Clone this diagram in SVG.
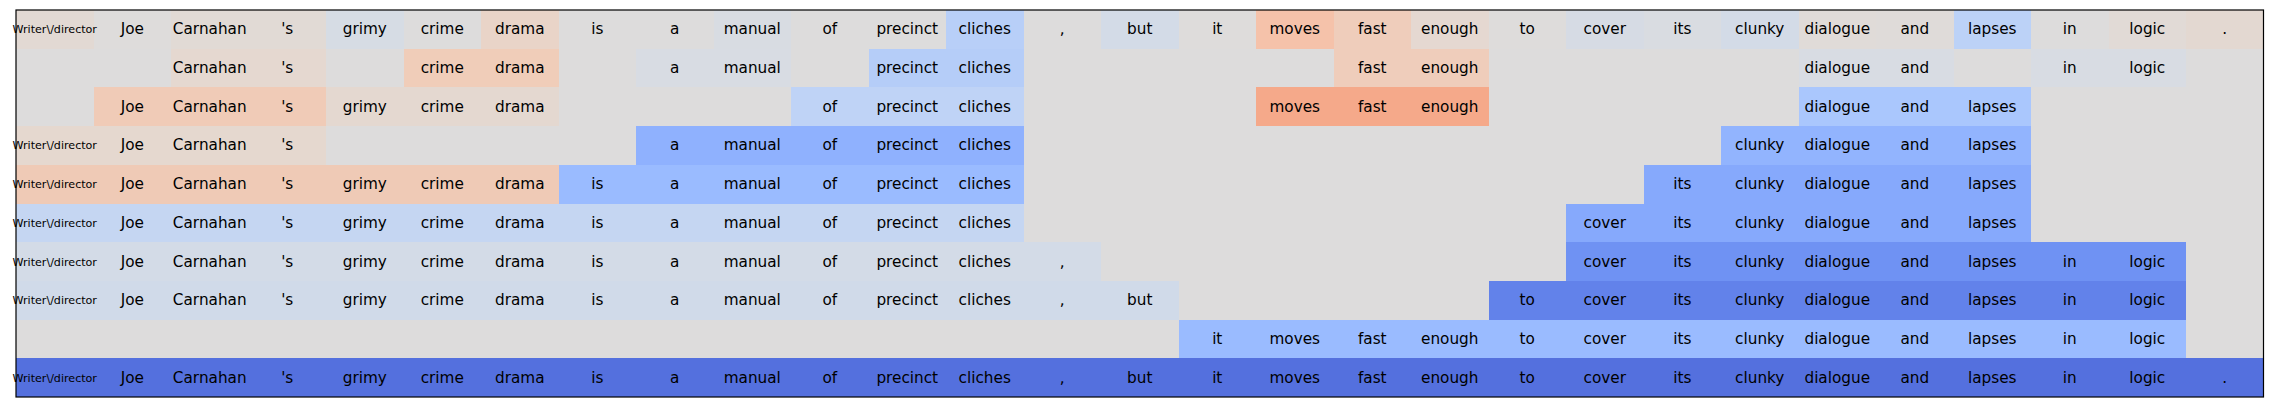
<svg xmlns="http://www.w3.org/2000/svg" width="2272" height="412" viewBox="0 0 2272 412">
<style>
rect.c{shape-rendering:crispEdges}
text{font-family:"DejaVu Sans","Liberation Sans",sans-serif;font-size:15.28px;fill:#000;text-anchor:middle}
text.s{font-size:11.1px}
</style>
<rect x="0" y="0" width="2272" height="412" fill="#ffffff"/>
<rect class="c" x="16" y="10" width="2247.5" height="387" fill="#dddcdc"/>
<g id="row0">
<rect class="c" x="16" y="10" width="77.5" height="38.7" fill="#e2d9d3"/>
<rect class="c" x="93.5" y="10" width="77.5" height="38.7" fill="#dedcdb"/>
<rect class="c" x="171" y="10" width="155" height="38.7" fill="#e1dad5"/>
<rect class="c" x="326" y="10" width="77.5" height="38.7" fill="#d6dce4"/>
<rect class="c" x="481" y="10" width="77.5" height="38.7" fill="#e9d4c8"/>
<rect class="c" x="713.5" y="10" width="77.5" height="38.7" fill="#d8dce2"/>
<rect class="c" x="946" y="10" width="77.5" height="38.7" fill="#b8cff8"/>
<rect class="c" x="1101" y="10" width="77.5" height="38.7" fill="#d3dbe7"/>
<rect class="c" x="1178.5" y="10" width="77.5" height="38.7" fill="#dedcdb"/>
<rect class="c" x="1256" y="10" width="77.5" height="38.7" fill="#f5c2aa"/>
<rect class="c" x="1333.5" y="10" width="77.5" height="38.7" fill="#efcdbb"/>
<rect class="c" x="1411" y="10" width="77.5" height="38.7" fill="#e5d8d1"/>
<rect class="c" x="1488.5" y="10" width="77.5" height="38.7" fill="#dedcdb"/>
<rect class="c" x="1566" y="10" width="77.5" height="38.7" fill="#d6dbe4"/>
<rect class="c" x="1643.5" y="10" width="77.5" height="38.7" fill="#d9dce1"/>
<rect class="c" x="1721" y="10" width="77.5" height="38.7" fill="#d3dbe7"/>
<rect class="c" x="1798.5" y="10" width="77.5" height="38.7" fill="#e0dbd8"/>
<rect class="c" x="1876" y="10" width="77.5" height="38.7" fill="#dfdbd9"/>
<rect class="c" x="1953.5" y="10" width="77.5" height="38.7" fill="#bcd2f7"/>
<rect class="c" x="2108.5" y="10" width="77.5" height="38.7" fill="#e1dad6"/>
<rect class="c" x="2186" y="10" width="77.5" height="38.7" fill="#e3d8d1"/>
<text class="s" x="54.75" y="33.3">Writer\/director</text>
<text x="132.25" y="34.35">Joe</text>
<text x="209.75" y="34.35">Carnahan</text>
<text x="287.25" y="34.35">'s</text>
<text x="364.75" y="34.35">grimy</text>
<text x="442.25" y="34.35">crime</text>
<text x="519.75" y="34.35">drama</text>
<text x="597.25" y="34.35">is</text>
<text x="674.75" y="34.35">a</text>
<text x="752.25" y="34.35">manual</text>
<text x="829.75" y="34.35">of</text>
<text x="907.25" y="34.35">precinct</text>
<text x="984.75" y="34.35">cliches</text>
<text x="1062.25" y="34.35">,</text>
<text x="1139.75" y="34.35">but</text>
<text x="1217.25" y="34.35">it</text>
<text x="1294.75" y="34.35">moves</text>
<text x="1372.25" y="34.35">fast</text>
<text x="1449.75" y="34.35">enough</text>
<text x="1527.25" y="34.35">to</text>
<text x="1604.75" y="34.35">cover</text>
<text x="1682.25" y="34.35">its</text>
<text x="1759.75" y="34.35">clunky</text>
<text x="1837.25" y="34.35">dialogue</text>
<text x="1914.75" y="34.35">and</text>
<text x="1992.25" y="34.35">lapses</text>
<text x="2069.75" y="34.35">in</text>
<text x="2147.25" y="34.35">logic</text>
<text x="2224.75" y="34.35">.</text>
</g>
<g id="row1">
<rect class="c" x="171" y="48.7" width="155" height="38.7" fill="#e5d8d0"/>
<rect class="c" x="403.5" y="48.7" width="155" height="38.7" fill="#f0cdb9"/>
<rect class="c" x="636" y="48.7" width="155" height="38.7" fill="#d8dce3"/>
<rect class="c" x="868.5" y="48.7" width="155" height="38.7" fill="#b5cdf8"/>
<rect class="c" x="1333.5" y="48.7" width="155" height="38.7" fill="#efcdbb"/>
<rect class="c" x="1798.5" y="48.7" width="155" height="38.7" fill="#d8dce3"/>
<rect class="c" x="2031" y="48.7" width="155" height="38.7" fill="#d8dce3"/>
<text x="209.75" y="73.05">Carnahan</text>
<text x="287.25" y="73.05">'s</text>
<text x="442.25" y="73.05">crime</text>
<text x="519.75" y="73.05">drama</text>
<text x="674.75" y="73.05">a</text>
<text x="752.25" y="73.05">manual</text>
<text x="907.25" y="73.05">precinct</text>
<text x="984.75" y="73.05">cliches</text>
<text x="1372.25" y="73.05">fast</text>
<text x="1449.75" y="73.05">enough</text>
<text x="1837.25" y="73.05">dialogue</text>
<text x="1914.75" y="73.05">and</text>
<text x="2069.75" y="73.05">in</text>
<text x="2147.25" y="73.05">logic</text>
</g>
<g id="row2">
<rect class="c" x="93.5" y="87.4" width="232.5" height="38.7" fill="#f0cbb7"/>
<rect class="c" x="326" y="87.4" width="232.5" height="38.7" fill="#e4d8d0"/>
<rect class="c" x="791" y="87.4" width="232.5" height="38.7" fill="#bfd3f6"/>
<rect class="c" x="1256" y="87.4" width="232.5" height="38.7" fill="#f5a98a"/>
<rect class="c" x="1798.5" y="87.4" width="232.5" height="38.7" fill="#aac7fd"/>
<text x="132.25" y="111.75">Joe</text>
<text x="209.75" y="111.75">Carnahan</text>
<text x="287.25" y="111.75">'s</text>
<text x="364.75" y="111.75">grimy</text>
<text x="442.25" y="111.75">crime</text>
<text x="519.75" y="111.75">drama</text>
<text x="829.75" y="111.75">of</text>
<text x="907.25" y="111.75">precinct</text>
<text x="984.75" y="111.75">cliches</text>
<text x="1294.75" y="111.75">moves</text>
<text x="1372.25" y="111.75">fast</text>
<text x="1449.75" y="111.75">enough</text>
<text x="1837.25" y="111.75">dialogue</text>
<text x="1914.75" y="111.75">and</text>
<text x="1992.25" y="111.75">lapses</text>
</g>
<g id="row3">
<rect class="c" x="16" y="126.1" width="310" height="38.7" fill="#e5d8cf"/>
<rect class="c" x="636" y="126.1" width="387.5" height="38.7" fill="#8fb1fe"/>
<rect class="c" x="1721" y="126.1" width="310" height="38.7" fill="#92b4fe"/>
<text class="s" x="54.75" y="149.4">Writer\/director</text>
<text x="132.25" y="150.45">Joe</text>
<text x="209.75" y="150.45">Carnahan</text>
<text x="287.25" y="150.45">'s</text>
<text x="674.75" y="150.45">a</text>
<text x="752.25" y="150.45">manual</text>
<text x="829.75" y="150.45">of</text>
<text x="907.25" y="150.45">precinct</text>
<text x="984.75" y="150.45">cliches</text>
<text x="1759.75" y="150.45">clunky</text>
<text x="1837.25" y="150.45">dialogue</text>
<text x="1914.75" y="150.45">and</text>
<text x="1992.25" y="150.45">lapses</text>
</g>
<g id="row4">
<rect class="c" x="16" y="164.8" width="542.5" height="38.7" fill="#efcab6"/>
<rect class="c" x="558.5" y="164.8" width="465" height="38.7" fill="#9abbff"/>
<rect class="c" x="1643.5" y="164.8" width="387.5" height="38.7" fill="#86a9fc"/>
<text class="s" x="54.75" y="188.1">Writer\/director</text>
<text x="132.25" y="189.15">Joe</text>
<text x="209.75" y="189.15">Carnahan</text>
<text x="287.25" y="189.15">'s</text>
<text x="364.75" y="189.15">grimy</text>
<text x="442.25" y="189.15">crime</text>
<text x="519.75" y="189.15">drama</text>
<text x="597.25" y="189.15">is</text>
<text x="674.75" y="189.15">a</text>
<text x="752.25" y="189.15">manual</text>
<text x="829.75" y="189.15">of</text>
<text x="907.25" y="189.15">precinct</text>
<text x="984.75" y="189.15">cliches</text>
<text x="1682.25" y="189.15">its</text>
<text x="1759.75" y="189.15">clunky</text>
<text x="1837.25" y="189.15">dialogue</text>
<text x="1914.75" y="189.15">and</text>
<text x="1992.25" y="189.15">lapses</text>
</g>
<g id="row5">
<rect class="c" x="16" y="203.5" width="1007.5" height="38.7" fill="#c5d6f2"/>
<rect class="c" x="1566" y="203.5" width="465" height="38.7" fill="#86a9fc"/>
<text class="s" x="54.75" y="226.8">Writer\/director</text>
<text x="132.25" y="227.85">Joe</text>
<text x="209.75" y="227.85">Carnahan</text>
<text x="287.25" y="227.85">'s</text>
<text x="364.75" y="227.85">grimy</text>
<text x="442.25" y="227.85">crime</text>
<text x="519.75" y="227.85">drama</text>
<text x="597.25" y="227.85">is</text>
<text x="674.75" y="227.85">a</text>
<text x="752.25" y="227.85">manual</text>
<text x="829.75" y="227.85">of</text>
<text x="907.25" y="227.85">precinct</text>
<text x="984.75" y="227.85">cliches</text>
<text x="1604.75" y="227.85">cover</text>
<text x="1682.25" y="227.85">its</text>
<text x="1759.75" y="227.85">clunky</text>
<text x="1837.25" y="227.85">dialogue</text>
<text x="1914.75" y="227.85">and</text>
<text x="1992.25" y="227.85">lapses</text>
</g>
<g id="row6">
<rect class="c" x="16" y="242.2" width="1085" height="38.7" fill="#d3dbe7"/>
<rect class="c" x="1566" y="242.2" width="620" height="38.7" fill="#6f92f3"/>
<text class="s" x="54.75" y="265.5">Writer\/director</text>
<text x="132.25" y="266.55">Joe</text>
<text x="209.75" y="266.55">Carnahan</text>
<text x="287.25" y="266.55">'s</text>
<text x="364.75" y="266.55">grimy</text>
<text x="442.25" y="266.55">crime</text>
<text x="519.75" y="266.55">drama</text>
<text x="597.25" y="266.55">is</text>
<text x="674.75" y="266.55">a</text>
<text x="752.25" y="266.55">manual</text>
<text x="829.75" y="266.55">of</text>
<text x="907.25" y="266.55">precinct</text>
<text x="984.75" y="266.55">cliches</text>
<text x="1062.25" y="266.55">,</text>
<text x="1604.75" y="266.55">cover</text>
<text x="1682.25" y="266.55">its</text>
<text x="1759.75" y="266.55">clunky</text>
<text x="1837.25" y="266.55">dialogue</text>
<text x="1914.75" y="266.55">and</text>
<text x="1992.25" y="266.55">lapses</text>
<text x="2069.75" y="266.55">in</text>
<text x="2147.25" y="266.55">logic</text>
</g>
<g id="row7">
<rect class="c" x="16" y="280.9" width="1162.5" height="38.7" fill="#d0dae9"/>
<rect class="c" x="1488.5" y="280.9" width="697.5" height="38.7" fill="#6282ea"/>
<text class="s" x="54.75" y="304.2">Writer\/director</text>
<text x="132.25" y="305.25">Joe</text>
<text x="209.75" y="305.25">Carnahan</text>
<text x="287.25" y="305.25">'s</text>
<text x="364.75" y="305.25">grimy</text>
<text x="442.25" y="305.25">crime</text>
<text x="519.75" y="305.25">drama</text>
<text x="597.25" y="305.25">is</text>
<text x="674.75" y="305.25">a</text>
<text x="752.25" y="305.25">manual</text>
<text x="829.75" y="305.25">of</text>
<text x="907.25" y="305.25">precinct</text>
<text x="984.75" y="305.25">cliches</text>
<text x="1062.25" y="305.25">,</text>
<text x="1139.75" y="305.25">but</text>
<text x="1527.25" y="305.25">to</text>
<text x="1604.75" y="305.25">cover</text>
<text x="1682.25" y="305.25">its</text>
<text x="1759.75" y="305.25">clunky</text>
<text x="1837.25" y="305.25">dialogue</text>
<text x="1914.75" y="305.25">and</text>
<text x="1992.25" y="305.25">lapses</text>
<text x="2069.75" y="305.25">in</text>
<text x="2147.25" y="305.25">logic</text>
</g>
<g id="row8">
<rect class="c" x="1178.5" y="319.6" width="1007.5" height="38.7" fill="#9abbff"/>
<text x="1217.25" y="343.95">it</text>
<text x="1294.75" y="343.95">moves</text>
<text x="1372.25" y="343.95">fast</text>
<text x="1449.75" y="343.95">enough</text>
<text x="1527.25" y="343.95">to</text>
<text x="1604.75" y="343.95">cover</text>
<text x="1682.25" y="343.95">its</text>
<text x="1759.75" y="343.95">clunky</text>
<text x="1837.25" y="343.95">dialogue</text>
<text x="1914.75" y="343.95">and</text>
<text x="1992.25" y="343.95">lapses</text>
<text x="2069.75" y="343.95">in</text>
<text x="2147.25" y="343.95">logic</text>
</g>
<g id="row9">
<rect class="c" x="16" y="358.3" width="2247.5" height="38.7" fill="#5470de"/>
<text class="s" x="54.75" y="381.6">Writer\/director</text>
<text x="132.25" y="382.65">Joe</text>
<text x="209.75" y="382.65">Carnahan</text>
<text x="287.25" y="382.65">'s</text>
<text x="364.75" y="382.65">grimy</text>
<text x="442.25" y="382.65">crime</text>
<text x="519.75" y="382.65">drama</text>
<text x="597.25" y="382.65">is</text>
<text x="674.75" y="382.65">a</text>
<text x="752.25" y="382.65">manual</text>
<text x="829.75" y="382.65">of</text>
<text x="907.25" y="382.65">precinct</text>
<text x="984.75" y="382.65">cliches</text>
<text x="1062.25" y="382.65">,</text>
<text x="1139.75" y="382.65">but</text>
<text x="1217.25" y="382.65">it</text>
<text x="1294.75" y="382.65">moves</text>
<text x="1372.25" y="382.65">fast</text>
<text x="1449.75" y="382.65">enough</text>
<text x="1527.25" y="382.65">to</text>
<text x="1604.75" y="382.65">cover</text>
<text x="1682.25" y="382.65">its</text>
<text x="1759.75" y="382.65">clunky</text>
<text x="1837.25" y="382.65">dialogue</text>
<text x="1914.75" y="382.65">and</text>
<text x="1992.25" y="382.65">lapses</text>
<text x="2069.75" y="382.65">in</text>
<text x="2147.25" y="382.65">logic</text>
<text x="2224.75" y="382.65">.</text>
</g>
<g id="frame">
<rect x="16" y="10" width="2247.5" height="387" fill="none" stroke="#000" stroke-width="1.2"/>
</g>
</svg>
